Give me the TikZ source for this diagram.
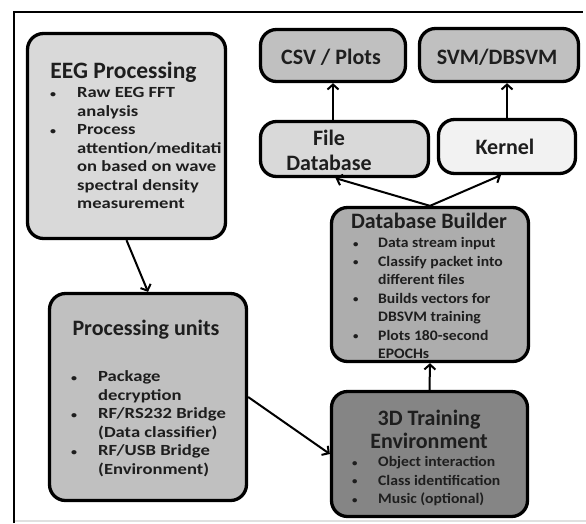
\documentclass[tikz,border=0pt]{standalone}
\usepackage{fontspec}
\setmainfont{Carlito}
\newfontfamily\widelist{Carlito}[FakeStretch=1.2]
\newfontfamily\semiwidelist{Carlito}[FakeStretch=1.08]
\usetikzlibrary{arrows.meta,calc}

\definecolor{inkcol}{HTML}{1E1E1E}
\definecolor{fillpale}{HTML}{F2F2F2}
\definecolor{filllight}{HTML}{D9D9D9}
\definecolor{fillmid}{HTML}{C0C0C0}
\definecolor{fillbuilder}{HTML}{ADADAD}
\definecolor{filldark}{HTML}{858585}

\newcommand\ttlfont{\fontsize{22}{23}\selectfont\bfseries}
\newcommand\lstfont{\semiwidelist\fontsize{14.5}{18.5}\selectfont\bfseries}
\newcommand\widelstfont{\widelist\fontsize{15.5}{18.5}\selectfont\bfseries}
% small list bullet
\newcommand\bul{\raisebox{0.6pt}{\fontsize{10}{10}\selectfont\textbullet}}

\begin{document}
\begin{tikzpicture}[x=1pt,y=-1pt,
  box/.style={draw=black, line width=3.3pt, rounded corners=16pt, inner sep=0pt},
  ttl/.style={text=inkcol, font=\ttlfont, inner sep=0pt, align=center},
  lst/.style={text=inkcol, font=\lstfont, inner sep=0pt, anchor=north west},
  arr/.style={draw=black, line width=2pt, -{Straight Barb[length=5pt,width=11pt,line width=2pt]}}]

% canvas and frame
\useasboundingbox (0,0) rectangle (586,523);
\fill[white] (0,0) rectangle (586,523);
\draw[black!12, line width=1.2pt] (14,521) -- (586,521);
\draw[black, line width=2.2pt] (14,523) -- (14,12) -- (583,12);

% boxes
\node[box, fill=filllight, minimum width=198pt, minimum height=205pt] (eeg) at (126.5,136) {};
\node[box, fill=fillmid, minimum width=145pt, minimum height=52pt] (csv) at (333,55.5) {};
\node[box, fill=fillmid, minimum width=159pt, minimum height=53pt] (svm) at (499,55) {};
\node[box, fill=filllight, minimum width=168pt, minimum height=55pt] (filedb) at (344.5,149) {};
\node[box, fill=fillpale, minimum width=137pt, minimum height=54pt] (kernel) at (507,146.5) {};
\node[box, fill=fillbuilder, minimum width=197pt, minimum height=154pt] (dbb) at (430,284.5) {};
\node[box, fill=fillmid, minimum width=197pt, minimum height=207pt] (proc) at (148,397) {};
\node[box, fill=filldark, minimum width=196pt, minimum height=125pt] (train) at (429.5,454) {};

% box labels
\node[ttl, font=\fontsize{23.5}{24}\selectfont\bfseries] (eegttl) at (123.5,72) {EEG Processing};
\node[lst, font=\widelstfont] (eeglst) at (50,84.5) {\begin{tabular}{@{}p{27pt}@{}l@{}}
\bul & Raw EEG FFT\\
 & analysis\\
\bul & Process\\
 & attention/meditati\\
 & on based on wave\\
 & spectral density\\
 & measurement
\end{tabular}};

\node[ttl] (csvttl) at (331,57) {CSV / Plots};
\node[ttl] (svmttl) at (497,57) {SVM/DBSVM};
\node[ttl, font=\fontsize{22}{25}\selectfont\bfseries] (filettl) at (329,150) {File\\Database};
\node[ttl] (kernelttl) at (505,147) {Kernel};

\node[ttl] (dbbttl) at (429,221) {Database Builder};
\node[lst] (dbblst) at (353,234.5) {\begin{tabular}{@{}p{25pt}@{}l@{}}
\bul & Data stream input\\
\bul & Classify packet into\\
 & different files\\
\bul & Builds vectors for\\
 & DBSVM training\\
\bul & Plots 180-second\\
 & EPOCHs
\end{tabular}};

\node[ttl] (procttl) at (146,330) {Processing units};
\node[lst, font=\widelstfont] (proclst) at (71,368.5) {\begin{tabular}{@{}p{27pt}@{}l@{}}
\bul & Package\\
 & decryption\\
\bul & RF/RS232 Bridge\\
 & (Data classifier)\\
\bul & RF/USB Bridge\\
 & (Environment)
\end{tabular}};

\node[ttl] (trainttl) at (429,429) {3D Training\\Environment};
\node[lst] (trainlst) at (352,453.5) {\begin{tabular}{@{}p{26pt}@{}l@{}}
\bul & Object interaction\\
\bul & Class identification\\
\bul & Music (optional)
\end{tabular}};

% connectors
\draw[arr] (filedb.north -| csv.south) -- (csv.south);
\draw[arr] (kernel.north) -- (kernel.north |- svm.south);
\draw[arr] (dbb.north) -- ($(filedb.south)+(-9pt,0)$);
\draw[arr] (dbb.north) -- ($(kernel.south)+(-6pt,0)$);
\draw[arr] (train.north) -- (dbb.south);
\draw[arr] (eeg.south) -- (proc.north);
\draw[arr] (proc.east) -- (train.west);
\end{tikzpicture}
\end{document}
